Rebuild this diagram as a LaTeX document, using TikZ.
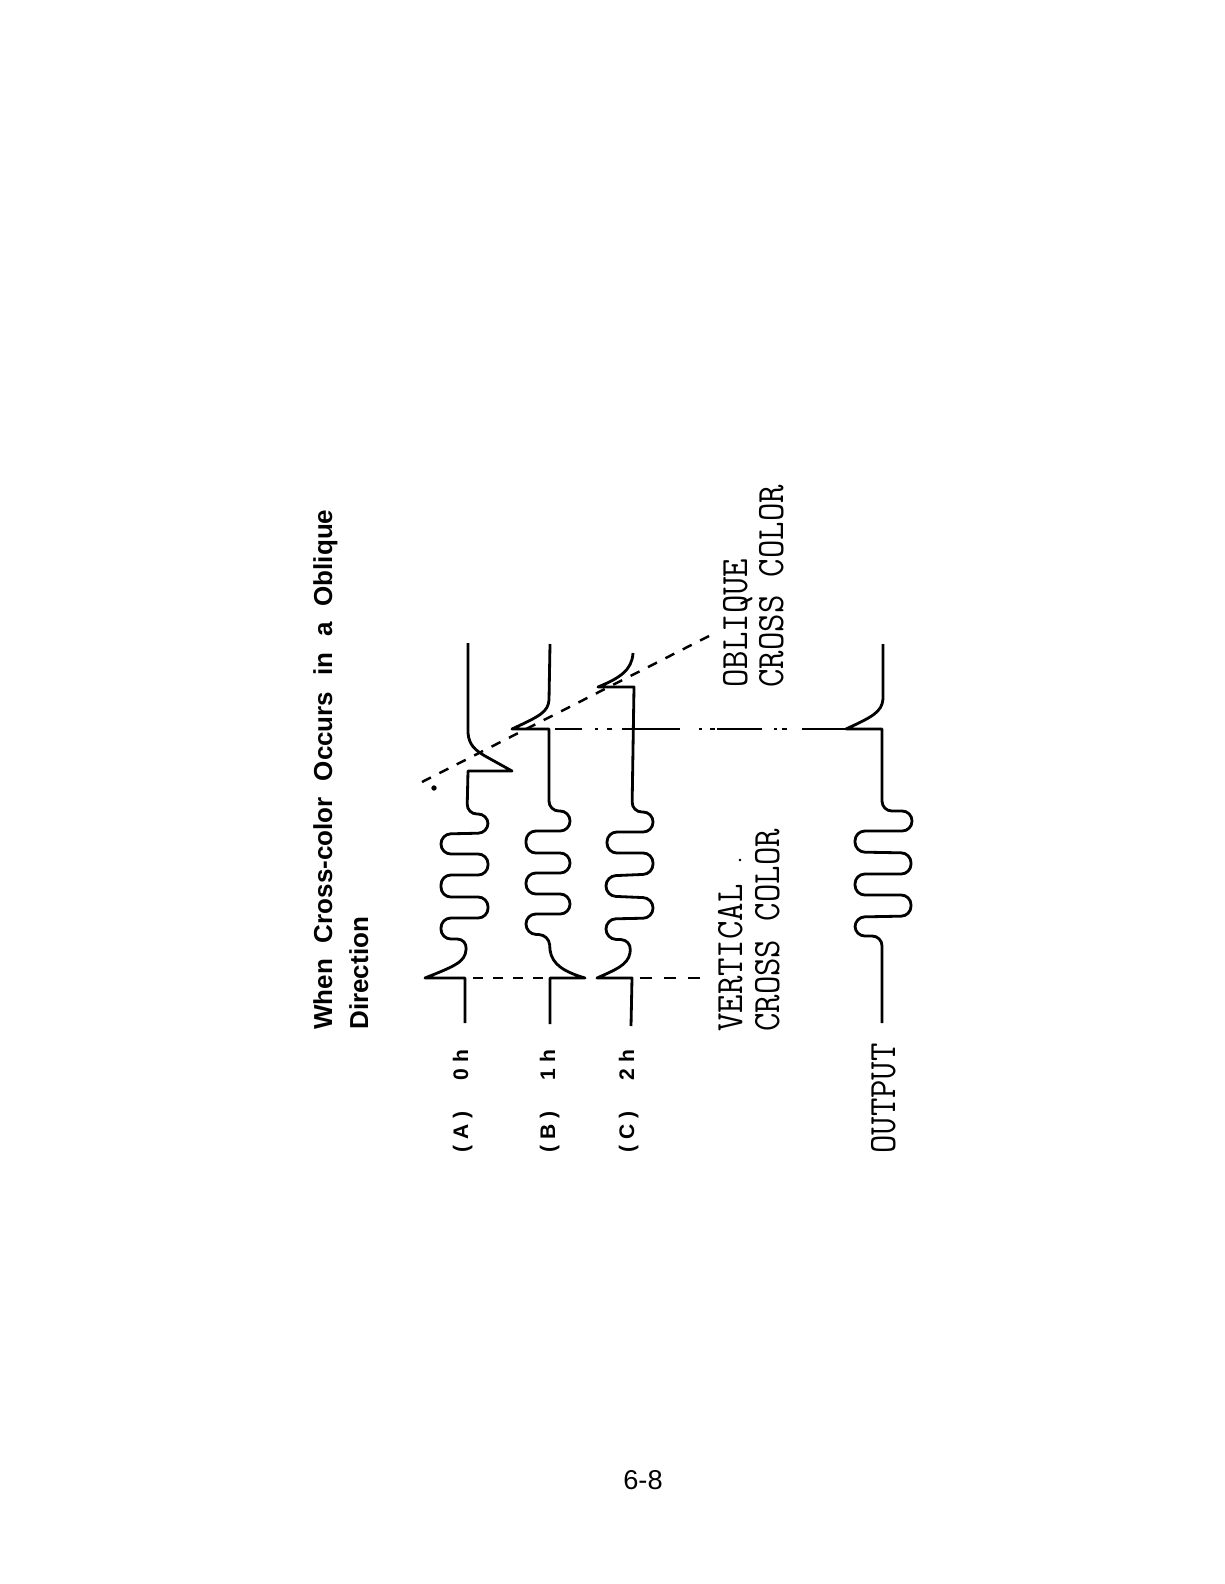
\documentclass[tikz,border=0pt]{standalone}
\usepackage{fontspec}
\newfontfamily\headfont{Liberation Sans}
\tikzset{
  wave/.style={line width=1.6pt,line join=round},
  crossline/.style={line width=1.4pt},
  monolabel/.style={rotate=90,anchor=base west,inner sep=0pt,font=\fontsize{22}{24}\selectfont\ttfamily},
  linelabel/.style={rotate=90,anchor=base west,inner sep=0pt,font=\fontsize{12}{14}\headfont\bfseries},
  headlabel/.style={rotate=90,anchor=base west,inner sep=0pt,font=\fontsize{14.8}{16}\headfont\bfseries},
}
\newcommand{\squeeze}[1]{\scalebox{.925}[1]{#1}}
\begin{document}
\begin{tikzpicture}[x=0.02cm,y=-0.02cm]
     \useasboundingbox (0,0) rectangle (1224,1584);
     % heading
     \node[headlabel] (headone) at (332,1030){\makebox[296pt][s]{When Cross-color Occurs in a Oblique}};
     \node[headlabel] (headtwo) at (368,1030){Direction};
     % line A
     \draw[wave] (468,643) -- (468,733) .. controls (469,745) and (475,750) .. (485,756) -- (512,771) -- (468,771)
        [rounded corners=5.6pt] -- (467,814) -- (488,814) -- (488,833) -- (441,834) -- (441,854) -- (488,854) -- (488,875)
        -- (441,875) -- (441,897) -- (488,897) -- (488,918) -- (441,918) -- (441,939) -- (467,939)
        [sharp corners] -- (466,950) .. controls (465,962) and (455,966) .. (425,978) -- (465,978) -- (465,1023);
     % line B
     \draw[wave] (550,644) -- (549,700) .. controls (548,712) and (540,716) .. (512,729) -- (549,729)
        [rounded corners=5.6pt] -- (549,811) -- (570,811) -- (570,831) -- (526,831) -- (526,853) -- (570,853) -- (570,873)
        -- (526,873) -- (526,894) -- (570,894) -- (570,914) -- (526,914) -- (526,934) -- (549,935)
        [sharp corners] -- (550,950) .. controls (552,965) and (565,972) .. (585,978) -- (550,978) -- (550,1024);
     % line C
     \draw[wave] (633,653) .. controls (632,670) and (620,678) .. (598,687) -- (634,687)
        [rounded corners=5.6pt] -- (632,812) -- (653,812) -- (653,832) -- (607,832) -- (607,853) -- (653,853) -- (653,874)
        -- (606,876) -- (606,896) -- (653,898) -- (653,918) -- (606,919) -- (606,939) -- (631,940)
        [sharp corners] -- (630,953) .. controls (628,965) and (615,970) .. (597,978) -- (632,978) -- (631,1026);
     % output line
     \draw[wave] (883,644) -- (883,699) .. controls (882,712) and (872,717) .. (846,729) -- (882,729)
        [rounded corners=5.6pt] -- (882,811) -- (912,811) -- (912,831) -- (855,831) -- (855,852) -- (911,853) -- (911,874)
        -- (855,874) -- (855,895) -- (911,895) -- (911,916) -- (855,917) -- (855,936) -- (882,936)
        [sharp corners] -- (882,1023);
     % cross lines
     \coordinate (obliquelow) at (422,782);
     \coordinate (obliquehigh) at (713,634);
     \coordinate (verticala) at (473,978);
     \coordinate (verticalb) at (545,978);
     \coordinate (verticalc) at (640,978);
     \coordinate (verticalend) at (700,978);
     \coordinate (oblongstart) at (555,729);
     \coordinate (oblongend) at (846,729);
     \draw[crossline,dash pattern=on 5.7pt off 5.4pt] (obliquelow) -- (obliquehigh);
     \draw[crossline,dash pattern=on 5.7pt off 5.7pt] (verticala) -- (verticalb);
     \draw[crossline,dash pattern=on 6.8pt off 6.8pt] (verticalc) -- (verticalend);
     \draw[crossline,dash pattern=on 15.3pt off 7.4pt on 1.7pt off 5.1pt on 2.8pt off 5.7pt on 32.9pt off 11.3pt on 1.7pt off 4.5pt on 2.8pt off 1.1pt on 25.5pt off 6.8pt on 1.7pt off 2.8pt on 2.8pt off 8.5pt on 29pt off 20pt] (oblongstart) -- (oblongend);
     \draw[fill] (434,788) circle [radius=1.3pt];
     \draw[fill] (740,860) circle [radius=.5pt];
     % labels
     \node[linelabel] (labela) at (468,1153){( A )\hspace{1.5em}0 h};
     \node[linelabel] (labelb) at (555,1153){( B )\hspace{1.5em}1 h};
     \node[linelabel] (labelc) at (634,1153){( C )\hspace{1.5em}2 h};
     \node[monolabel] (labelout) at (895,1154){\squeeze{OUTPUT}};
     \node[monolabel] (vertone) at (742,1032){\squeeze{VERTICAL}};
     \node[monolabel] (verttwo) at (779,1032){\squeeze{CROSS COLOR}};
     \node[monolabel] (oblqone) at (747,688){\squeeze{OBLIQUE}};
     \node[monolabel] (oblqtwo) at (783,688){\squeeze{CROSS COLOR}};
     \node[inner sep=0pt,font=\fontsize{15.5}{16}\headfont] (pagenum) at (643,1480){6-8};
\end{tikzpicture}
\end{document}
